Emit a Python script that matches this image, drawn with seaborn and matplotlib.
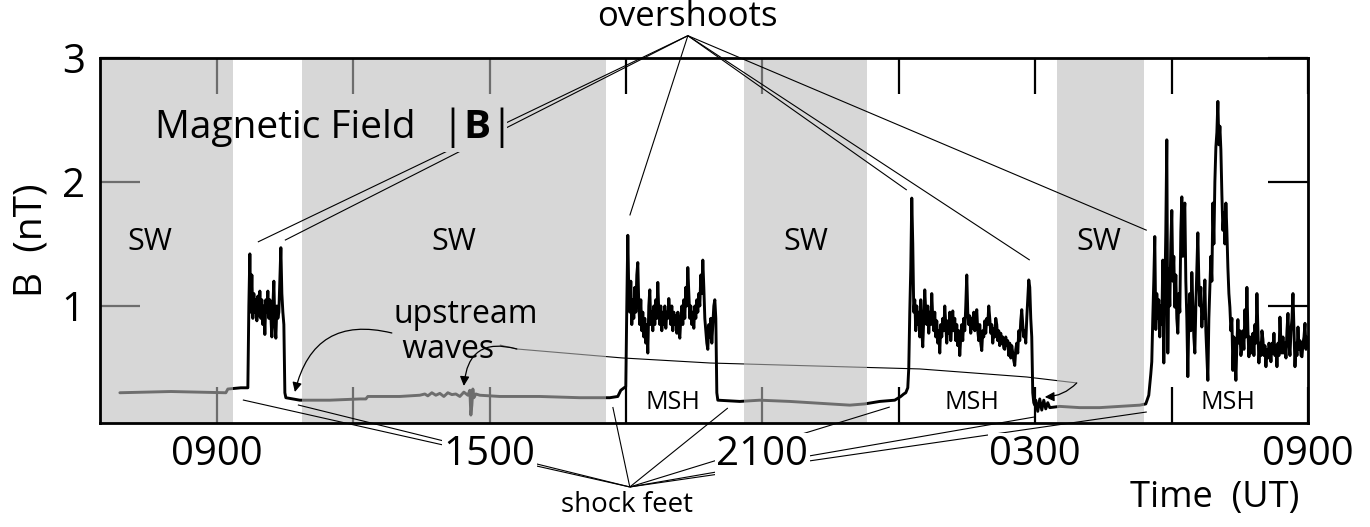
import numpy as np
import pandas as pd
import matplotlib
matplotlib.use("Agg")
import matplotlib.pyplot as plt
import seaborn as sns

# ---------------- |B| record (time in hours from 00 UT of day 1, field in nT) ----------------
# solar-wind stretches: irregular samples
sw1_t = [6.867, 7.989, 9.198, 9.242, 9.528, 9.638]
sw1_b = [0.30, 0.31, 0.30, 0.33, 0.34, 0.34]

sw2_t = [10.826, 11.485, 12.145, 12.277, 12.321, 13.025, 13.465, 13.575, 13.641, 13.729,
         13.817, 13.905, 13.993, 14.081, 14.169, 14.257, 14.345, 14.433, 14.521, 14.565,
         14.587, 14.609, 14.631, 14.653, 14.697, 14.784, 15.224, 16.104, 16.984, 17.643,
         17.819, 17.885]
sw2_b = [0.24, 0.24, 0.25, 0.25, 0.27, 0.27, 0.28, 0.29, 0.275, 0.30,
         0.28, 0.295, 0.27, 0.30, 0.285, 0.29, 0.27, 0.305, 0.28, 0.32,
         0.12, 0.20, 0.33, 0.26, 0.29, 0.28, 0.27, 0.27, 0.26, 0.26,
         0.27, 0.32]

sw3_t = [20.503, 20.943, 21.602, 22.042, 22.482, 22.922, 23.252, 23.581, 23.911, 24.043, 24.109]
sw3_b = [0.23, 0.24, 0.23, 0.22, 0.21, 0.20, 0.21, 0.23, 0.24, 0.27, 0.29]

sw4_t = [27.056, 27.100, 27.144, 27.188, 27.232, 27.276, 27.320, 27.540, 27.980, 28.420,
         28.860, 29.300, 29.432, 29.498, 29.542]
sw4_b = [0.15, 0.25, 0.16, 0.24, 0.17, 0.22, 0.18, 0.19, 0.18, 0.18,
         0.19, 0.20, 0.21, 0.28, 0.45]

# magnetosheath intervals: evenly sampled between start and end time
msh1_span = (9.682, 10.518)
msh1_b = [0.34, 1.00, 1.42, 0.95, 1.25, 0.90, 1.10, 0.95, 1.05, 0.88,
          1.08, 0.92, 1.12, 0.90, 1.05, 0.85, 1.00, 0.77, 1.05, 0.95,
          1.12, 0.90, 1.05, 0.92, 0.75, 1.00, 1.20, 0.85, 0.74, 1.00,
          0.90, 0.95, 1.20, 1.47, 1.10, 0.95, 0.85, 0.30, 0.26]

msh2_span = (17.995, 20.019)
msh2_b = [0.35, 1.00, 1.57, 1.10, 0.95, 1.20, 0.85, 1.05, 0.90, 1.15,
          0.95, 1.25, 1.35, 1.00, 0.85, 1.05, 0.80, 0.95, 0.75, 0.90,
          0.70, 0.85, 0.62, 1.00, 1.13, 0.85, 0.95, 0.80, 1.00, 0.85,
          1.05, 0.90, 1.19, 0.95, 0.85, 1.00, 0.80, 0.95, 0.85, 1.00,
          0.82, 0.95, 0.90, 1.06, 0.95, 0.85, 1.00, 0.80, 0.95, 0.85,
          0.92, 0.78, 0.95, 0.80, 0.74, 0.90, 1.00, 0.85, 1.05, 0.90,
          1.15, 1.00, 1.31, 1.10, 0.90, 1.00, 0.85, 0.95, 0.82, 1.00,
          0.90, 1.05, 0.95, 1.10, 1.00, 1.25, 1.10, 1.37, 1.15, 0.90,
          0.80, 0.70, 0.65, 0.85, 0.75, 0.90, 0.70, 0.85, 1.00, 1.05,
          0.90, 0.30, 0.24]

msh3_span = (24.153, 27.012)
msh3_b = [0.30, 0.32, 0.34, 0.50, 0.95, 1.30, 1.87, 1.50, 0.95, 1.05,
          0.80, 1.00, 0.85, 0.95, 0.75, 1.05, 0.80, 0.67, 0.90, 1.13,
          0.95, 0.85, 1.00, 0.78, 0.95, 0.85, 1.10, 0.90, 0.80, 0.95,
          0.75, 0.88, 0.70, 0.80, 0.62, 0.85, 0.75, 0.90, 0.80, 1.00,
          0.85, 0.70, 0.88, 0.78, 0.95, 0.72, 0.85, 0.96, 0.80, 0.90,
          0.72, 0.85, 0.68, 0.80, 0.60, 0.75, 0.85, 0.72, 0.90, 0.80,
          1.00, 1.25, 0.95, 0.85, 0.92, 0.78, 0.90, 0.82, 0.95, 0.80,
          0.90, 0.97, 0.80, 0.72, 0.85, 0.70, 0.64, 0.80, 0.75, 0.88,
          0.78, 0.90, 0.85, 1.00, 0.90, 0.78, 0.85, 0.70, 0.82, 0.75,
          0.90, 0.85, 0.72, 0.80, 0.68, 0.78, 0.70, 0.75, 0.66, 0.65,
          0.75, 0.68, 0.72, 0.60, 0.70, 0.58, 0.68, 0.62, 0.56, 0.52,
          0.65, 0.70, 0.62, 0.80, 0.72, 0.88, 0.97, 0.85, 0.75, 0.80,
          0.70, 0.90, 1.05, 1.21, 1.15, 0.90, 0.75, 0.30, 0.22, 0.20, 0.24]

msh4_span = (29.564, 33.0)
msh4_b = [0.55, 0.90, 1.20, 1.56, 0.81, 1.10, 0.90, 1.05, 0.75, 1.00,
          0.85, 1.37, 0.54, 1.10, 1.60, 2.34, 0.62, 1.30, 1.00, 1.50,
          1.77, 1.20, 1.40, 0.99, 1.25, 0.90, 0.78, 1.10, 0.95, 1.60,
          1.88, 1.40, 1.70, 1.83, 1.20, 0.90, 0.43, 0.90, 1.10, 0.80,
          1.27, 1.00, 0.75, 0.62, 1.00, 1.30, 1.59, 1.20, 1.00, 1.15,
          0.83, 1.00, 0.90, 1.21, 0.80, 0.60, 0.40, 0.90, 1.15, 1.40,
          1.20, 1.83, 1.50, 2.00, 2.28, 2.40, 2.65, 2.30, 2.45, 2.26,
          1.90, 1.61, 1.75, 1.50, 1.83, 1.60, 1.31, 1.10, 0.99, 0.80,
          0.90, 0.48, 0.75, 0.60, 0.40, 0.70, 0.89, 0.70, 0.80, 0.60,
          0.67, 0.80, 0.65, 0.97, 0.75, 1.15, 0.80, 0.59, 0.75, 0.62,
          0.70, 0.78, 0.60, 0.85, 0.70, 1.10, 0.80, 0.54, 0.70, 0.60,
          0.80, 0.73, 0.60, 0.68, 0.51, 0.65, 0.58, 0.70, 0.65, 0.55,
          0.70, 0.62, 0.78, 0.60, 0.68, 0.51, 0.70, 0.60, 0.91, 0.70,
          0.62, 0.75, 0.62, 0.70, 0.58, 0.80, 0.94, 0.70, 0.60, 0.80,
          0.90, 1.10, 0.80, 0.51, 0.70, 0.60, 0.83, 0.65, 0.72, 0.60,
          0.59, 0.70, 0.75, 0.86, 0.65, 0.75, 0.70]

# solar-wind (shaded) intervals
sw_band_start = [6.43, 10.87, 20.59, 27.49]
sw_band_end = [9.35, 17.56, 23.30, 29.39]

# axes
x_limits = (6.43, 33.0)
y_limits = (0.056, 3.0)
x_ticks = [9, 12, 15, 18, 21, 24, 27, 30, 33]
x_label_ticks = [9, 15, 21, 27, 33]
x_tick_labels = ["0900", "1500", "2100", "0300", "0900"]
y_ticks = [1, 2, 3]

# region labels
sw_label_t = [7.527, 14.212, 21.954, 28.398]
sw_label_b = 1.516
msh_label_t = [19.029, 25.605, 31.235]
msh_label_b = 0.225

# annotation anchors (t, B)
overshoot_hub = (19.36, 3.18)
overshoot_points = [(9.902, 1.516), (10.496, 1.53), (18.083, 1.73),
                    (24.175, 1.935), (26.88, 1.37), (29.454, 1.61)]
foot_hub = (18.083, -0.46)
foot_points = [(9.572, 0.242), (10.782, 0.202), (17.709, 0.185), (20.239, 0.177),
               (23.801, 0.185), (26.99, 0.105), (29.454, 0.145)]
waves_path_t = [15.224, 15.598, 17.907, 19.843, 24.461, 26.814, 27.914]
waves_path_b = [0.685, 0.653, 0.581, 0.540, 0.492, 0.427, 0.379]


def build_series():
    parts_t, parts_b = [], []
    pieces = [
        (sw1_t, sw1_b),
        (np.linspace(*msh1_span, len(msh1_b)), msh1_b),
        (sw2_t, sw2_b),
        (np.linspace(*msh2_span, len(msh2_b)), msh2_b),
        (sw3_t, sw3_b),
        (np.linspace(*msh3_span, len(msh3_b)), msh3_b),
        (sw4_t, sw4_b),
        (np.linspace(*msh4_span, len(msh4_b)), msh4_b),
    ]
    for t, b in pieces:
        parts_t.append(np.asarray(t, dtype=float))
        parts_b.append(np.asarray(b, dtype=float))
    return pd.DataFrame({"t": np.concatenate(parts_t), "B": np.concatenate(parts_b)})


df = build_series()

sns.set_theme(style="white")
plt.rcParams["font.family"] = ["Open Sans", "DejaVu Sans"]
plt.rcParams["text.color"] = "black"
plt.rcParams["axes.labelcolor"] = "black"
plt.rcParams["xtick.color"] = "black"
plt.rcParams["ytick.color"] = "black"
# narrow bars from DejaVu, bold B from Open Sans for the |B| title
plt.rcParams["mathtext.fontset"] = "custom"
plt.rcParams["mathtext.rm"] = "DejaVu Sans"
plt.rcParams["mathtext.bf"] = "Open Sans:bold"

fig = plt.figure(figsize=(13.7, 5.27), dpi=100)
ax = fig.add_axes([100 / 1370, 104 / 527, 1208 / 1370, 365 / 527])

sns.lineplot(data=df, x="t", y="B", estimator=None, sort=False,
             color="black", lw=2.1, ax=ax, zorder=2)

ax.set_xlim(*x_limits)
ax.set_ylim(*y_limits)

# translucent shading for solar-wind intervals (lightens the trace beneath)
for s, e in zip(sw_band_start, sw_band_end):
    ax.axvspan(s, e, color="#bbbbbb", alpha=0.59, lw=0, zorder=2.2)

for sp in ax.spines.values():
    sp.set_linewidth(2.0)
    sp.set_color("black")
    sp.set_visible(True)
    sp.set_zorder(2.5)

ax.set_xticks(x_ticks)
ax.set_xticklabels([])
ax.tick_params(axis="x", direction="in", length=26, width=1.6, top=True, bottom=True,
               color="black")
ax.set_yticks(y_ticks)
ax.set_yticklabels([str(v) for v in y_ticks])
ax.tick_params(axis="y", direction="in", length=29, width=1.6, left=True, right=True,
               color="black", labelcolor="black", labelsize=29, pad=11)
ax.set_xlabel("")
ax.set_ylabel("B  (nT)", fontsize=28, labelpad=8, color="black")

for tk, lab in zip(x_label_ticks, x_tick_labels):
    ax.text(tk, -0.20, lab, ha="center", va="center", fontsize=29, zorder=6,
            bbox=dict(fc="white", ec="none", pad=1), clip_on=False)

ax.text(30.95, -0.548, "Time  (UT)", ha="center", va="center", fontsize=26, zorder=6)

for t in sw_label_t:
    ax.text(t, sw_label_b, "SW", ha="center", va="center", fontsize=22, zorder=4)
for t in msh_label_t:
    ax.text(t, msh_label_b, "MSH", ha="center", va="center", fontsize=18, zorder=4)

# panel title; |B| sits on a small box that interrupts the pointer lines
ax.text(7.637, 2.355, "Magnetic Field", ha="left", va="baseline", fontsize=28, zorder=4)
ax.text(13.93, 2.355, r"|$\mathbf{B}$|", ha="left", va="baseline", fontsize=29,
        zorder=4, bbox=dict(fc="#d7d7d7", ec="none", pad=1.5))

line_kw = dict(color="black", lw=0.8, zorder=3, clip_on=False, solid_capstyle="butt")

# overshoot pointers
ax.text(overshoot_hub[0], 3.33, "overshoots", ha="center", va="center", fontsize=25, zorder=6)
for t, b in overshoot_points:
    ax.plot([overshoot_hub[0], t], [overshoot_hub[1], b], **line_kw)

# shock-foot pointers
ax.text(18.017, -0.605, "shock feet", ha="center", va="center", fontsize=20, zorder=6)
for t, b in foot_points:
    ax.plot([foot_hub[0], t], [foot_hub[1], b], **line_kw)

# upstream waves
ax.text(12.89, 0.79, "upstream\n waves", ha="left", va="center", multialignment="left",
        fontsize=23, linespacing=1.05, zorder=4)
arrow_kw = dict(arrowstyle="-|>", color="black", lw=0.9, mutation_scale=14,
                shrinkA=0, shrinkB=0)
ax.annotate("", xy=(10.716, 0.306), xytext=(12.849, 0.782),
            arrowprops=dict(connectionstyle="arc3,rad=0.5", **arrow_kw), zorder=3)
ax.annotate("", xy=(14.433, 0.355), xytext=(15.598, 0.653),
            arrowprops=dict(connectionstyle="arc3,rad=0.6", **arrow_kw), zorder=3)
ax.plot(waves_path_t, waves_path_b, **{**line_kw, "zorder": 1.9})
ax.annotate("", xy=(27.211, 0.266), xytext=(27.914, 0.379),
            arrowprops=dict(connectionstyle="arc3,rad=-0.2", **arrow_kw), zorder=3)

fig.savefig("out.png", dpi=100)
